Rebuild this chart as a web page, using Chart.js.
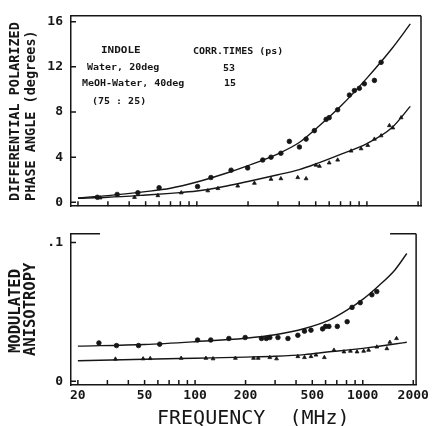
<!DOCTYPE html>
<html>
<head>
<meta charset="utf-8">
<script src="https://cdn.jsdelivr.net/npm/chart.js@4.4.0/dist/chart.umd.min.js"></script>
<style>
  html, body { margin: 0; padding: 0; background: #fff; }
  #wrap { position: relative; width: 432px; height: 426px; background: #fff; overflow: hidden; }
  canvas { position: absolute; left: 0; }
  .t { position: absolute; color: #161616; font-family: 'DejaVu Sans Mono', monospace; font-weight: bold; white-space: pre; }
  .leg { font-size: 10px; line-height: 10px; transform: scaleY(0.8); transform-origin: left center; }
  .ytitle { transform-origin: left top; transform: rotate(-90deg); line-height: 14px; }
</style>
</head>
<body>
<div id="wrap">
  <canvas id="phaseChart" width="432" height="222" style="top:0"></canvas>
  <canvas id="anisoChart" width="432" height="184" style="top:218px"></canvas>

  <div class="t ytitle" style="left:7px; top:201px; font-size:13.5px">DIFFERENTIAL POLARIZED</div>
  <div class="t ytitle" style="left:23px; top:201px; font-size:13.5px">PHASE ANGLE (degrees)</div>
  <div class="t ytitle" style="left:8px; top:353px; font-size:15.5px">MODULATED</div>
  <div class="t ytitle" style="left:23px; top:356px; font-size:15.5px">ANISOTROPY</div>

  <div class="t leg" style="left:101px; top:46px; font-size:11px">INDOLE</div>
  <div class="t leg" style="left:193px; top:47px">CORR.TIMES (ps)</div>
  <div class="t leg" style="left:87px; top:63px">Water, 20deg</div>
  <div class="t leg" style="left:223px; top:64px">53</div>
  <div class="t leg" style="left:82px; top:79px">MeOH-Water, 40deg</div>
  <div class="t leg" style="left:224px; top:79px">15</div>
  <div class="t leg" style="left:92px; top:97px">(75 : 25)</div>

  <div class="t" style="left:157px; top:405px; font-size:20px; font-weight:normal; line-height:24px">FREQUENCY  (MHz)</div>
</div>

<script>
// --- DATA ---
const fitFreq = [20, 30, 50, 70, 100, 150, 200, 300, 400, 500, 700, 1000, 1400, 1800];
const phaseWaterFit = [0.4, 0.6, 0.95, 1.25, 1.8, 2.6, 3.25, 4.3, 5.3, 6.5, 8.5, 11.0, 13.6, 15.8];
const phaseMeohFit = [0.35, 0.45, 0.65, 0.8, 1.0, 1.45, 1.85, 2.45, 2.9, 3.4, 4.25, 5.2, 6.6, 8.5];

const phaseWaterFreq = [26, 34, 45, 60, 101, 121, 159, 199, 244, 273, 312, 350, 401, 439, 491, 576, 600, 673, 789, 844, 903, 966, 1107, 1212];
const phaseWaterVals = [0.45, 0.7, 0.85, 1.3, 1.4, 2.2, 2.85, 3.05, 3.75, 4.0, 4.35, 5.4, 4.9, 5.6, 6.35, 7.35, 7.5, 8.2, 9.5, 9.9, 10.1, 10.5, 10.8, 12.4];
const phaseMeohFreq = [27, 43, 59, 81, 116, 133, 174, 218, 273, 312, 392, 439, 502, 526, 600, 673, 807, 924, 1012, 1107, 1212, 1356, 1420, 1589];
const phaseMeohVals = [0.4, 0.45, 0.6, 0.85, 1.03, 1.23, 1.45, 1.7, 2.05, 2.1, 2.2, 2.1, 3.3, 3.2, 3.5, 3.75, 4.55, 4.75, 5.05, 5.6, 5.9, 6.8, 6.6, 7.5];

const anisoFitFreq = [20, 50, 100, 200, 300, 450, 630, 800, 1000, 1250, 1550, 1830];
const anisoWaterFit = [0.0253, 0.0265, 0.0285, 0.031, 0.0335, 0.038, 0.044, 0.051, 0.059, 0.069, 0.080, 0.092];
const anisoMeohFit = [0.0148, 0.0158, 0.0166, 0.0174, 0.018, 0.0192, 0.0212, 0.0224, 0.0237, 0.0252, 0.0268, 0.0281];

const anisoWaterFreq = [26.7, 34, 46, 61.5, 103.5, 124, 159, 199, 249, 266, 279, 312, 358, 410, 449, 491, 576, 600, 628, 705, 807, 863, 966, 1133, 1212];
const anisoWaterVals = [0.0276, 0.0257, 0.0257, 0.0267, 0.0297, 0.0297, 0.0308, 0.0315, 0.0308, 0.0308, 0.0315, 0.0315, 0.0308, 0.0331, 0.0361, 0.0368, 0.0377, 0.0395, 0.0395, 0.0395, 0.0429, 0.0532, 0.0566, 0.0623, 0.0646];
const anisoMeohFreq = [33.5, 49, 54, 82.6, 116, 128, 174, 223, 238, 279, 306, 410, 449, 491, 526, 590, 673, 772, 844, 924, 1012, 1083, 1212, 1392, 1450, 1589];
const anisoMeohVals = [0.016, 0.0162, 0.0164, 0.0166, 0.0166, 0.0162, 0.0166, 0.0166, 0.0166, 0.0171, 0.0162, 0.0178, 0.0171, 0.0178, 0.0189, 0.0171, 0.0224, 0.0212, 0.0217, 0.0212, 0.0217, 0.0224, 0.0247, 0.0235, 0.0281, 0.0308];

const freqLabels = [20, 50, 100, 200, 500, 1000, 2000];
const freqMinor = [20, 30, 40, 50, 60, 70, 80, 90, 100, 200, 300, 400, 500, 600, 700, 800, 900, 1000, 2000];
const phaseTicks = [0, 4, 8, 12, 16];
const anisoTicks = [0, 0.1];

// --- RENDERING ---
const ink = '#161616';
const pairs = (xs, ys) => xs.map((f, i) => ({ x: f, y: ys[i] }));

const frame = {
  id: 'frame',
  afterDraw(chart, args, opts) {
    const { ctx, chartArea: a, scales: { x, y } } = chart;
    ctx.save();
    ctx.strokeStyle = ink;
    ctx.lineWidth = 1.5;
    ctx.beginPath();
    if (opts.fullTop) {
      ctx.moveTo(a.left, a.top); ctx.lineTo(a.right, a.top);
    } else {
      ctx.moveTo(a.left, a.top); ctx.lineTo(a.left + 29, a.top);
      ctx.moveTo(a.right - 26, a.top); ctx.lineTo(a.right, a.top);
    }
    ctx.moveTo(a.right, a.top); ctx.lineTo(a.right, a.bottom);
    freqMinor.forEach(f => {
      const px = x.getPixelForValue(f);
      ctx.moveTo(px, a.bottom); ctx.lineTo(px, a.bottom - 5);
    });
    y.ticks.forEach(t => {
      const py = y.getPixelForValue(t.value);
      ctx.moveTo(a.left, py); ctx.lineTo(a.left + 5, py);
    });
    ctx.stroke();
    ctx.restore();
  }
};

function fitSet(freqs, vals) {
  return { data: pairs(freqs, vals), showLine: true, pointRadius: 0, borderColor: ink, borderWidth: 1.4, cubicInterpolationMode: 'monotone' };
}
function dotSet(freqs, vals, style, r) {
  return { data: pairs(freqs, vals), showLine: false, pointStyle: style, pointRadius: r, backgroundColor: ink, borderColor: ink, borderWidth: 0.8 };
}

function makeChart(id, opts) {
  return new Chart(document.getElementById(id), {
    type: 'scatter',
    data: { datasets: opts.datasets },
    options: {
      responsive: false, animation: false, events: [],
      layout: { padding: opts.padding },
      plugins: { legend: { display: false }, tooltip: { enabled: false }, frame: { fullTop: opts.fullTop } },
      scales: {
        x: {
          type: 'logarithmic', min: 18.2, max: 2080,
          afterBuildTicks: s => { s.ticks = freqLabels.map(v => ({ value: v })); },
          afterFit: s => { s.height = opts.xHeight; },
          grid: { drawOnChartArea: false, drawTicks: false },
          border: { display: true, color: ink, width: 1.5 },
          ticks: { display: opts.showX, padding: 3, color: ink, autoSkip: false, maxRotation: 0,
            font: { family: 'DejaVu Sans Mono', size: 13, weight: 'bold' }, callback: v => String(v) }
        },
        y: {
          min: opts.yMin, max: opts.yMax,
          afterBuildTicks: s => { s.ticks = opts.yTicks.map(v => ({ value: v })); },
          afterFit: s => { s.width = 71; },
          grid: { drawOnChartArea: false, drawTicks: false },
          border: { display: true, color: ink, width: 1.5 },
          ticks: { padding: 8, color: ink, font: { family: 'DejaVu Sans Mono', size: 13, weight: 'bold' },
            callback: opts.yLabel }
        }
      }
    },
    plugins: [frame]
  });
}

makeChart('phaseChart', {
  datasets: [
    fitSet(fitFreq, phaseWaterFit),
    fitSet(fitFreq, phaseMeohFit),
    dotSet(phaseWaterFreq, phaseWaterVals, 'circle', 2.3),
    dotSet(phaseMeohFreq, phaseMeohVals, 'triangle', 2.2)
  ],
  padding: { top: 15, right: 11, bottom: 11, left: 0 },
  fullTop: true, showX: false, xHeight: 0,
  yMin: -0.34, yMax: 16.52, yTicks: phaseTicks,
  yLabel: v => String(v)
});

makeChart('anisoChart', {
  datasets: [
    fitSet(anisoFitFreq, anisoWaterFit),
    fitSet(anisoFitFreq, anisoMeohFit),
    dotSet(anisoWaterFreq, anisoWaterVals, 'circle', 2.3),
    dotSet(anisoMeohFreq, anisoMeohVals, 'triangle', 2.2)
  ],
  padding: { top: 8, right: 11, bottom: 0, left: 0 },
  fullTop: false, showX: true, xHeight: 17,
  yMin: -0.0027, yMax: 0.1062, yTicks: anisoTicks,
  yLabel: v => v === 0 ? '0' : '.1'
});
</script>
</body>
</html>
